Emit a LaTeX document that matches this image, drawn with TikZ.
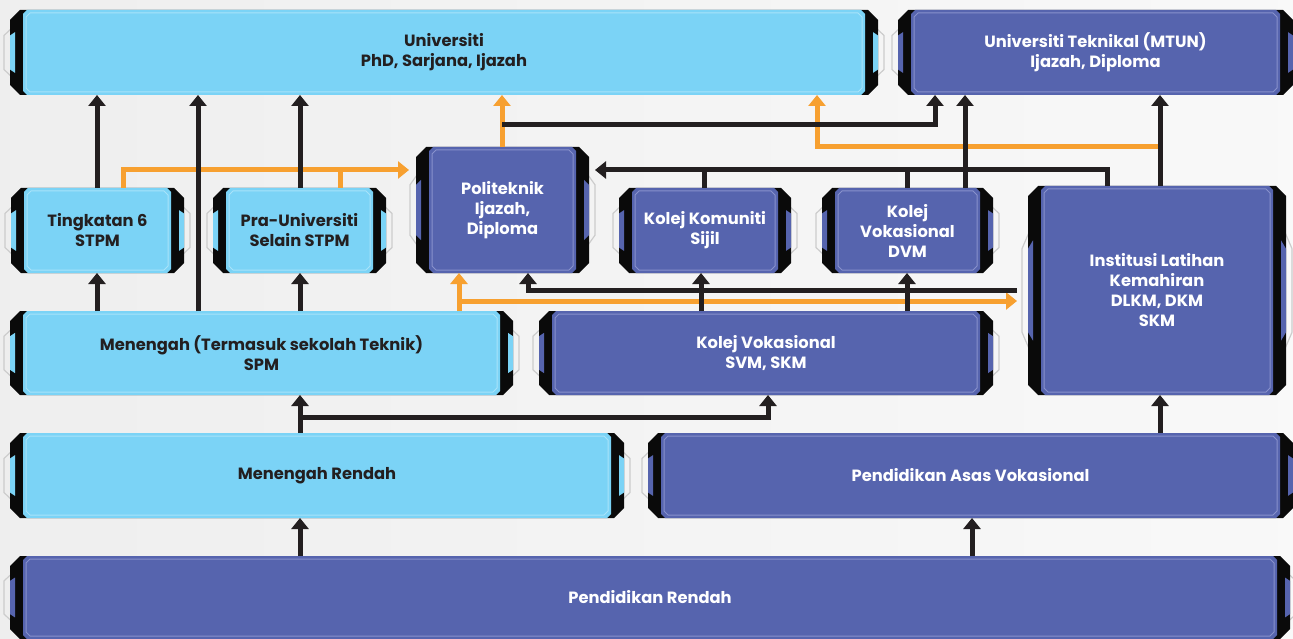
\documentclass[tikz,border=0pt]{standalone}
\usepackage{fontspec}
\setmainfont{Poppins}
\usetikzlibrary{arrows.meta}
\definecolor{lblue}{HTML}{7BD3F6}
\definecolor{lbline}{HTML}{A8E3FA}
\definecolor{dblue}{HTML}{5664AE}
\definecolor{dbline}{HTML}{8891CC}
\definecolor{capk}{HTML}{0A0A0A}
\definecolor{ink}{HTML}{231F20}
\definecolor{orng}{HTML}{F7A030}
\tikzset{
  bracket/.style={draw=gray!40, line width=1.2pt},
  boxtext/.style={font=\fontsize{16.3}{20}\selectfont\bfseries, align=center, inner sep=0pt, outer sep=0pt, draw=none},
  blk/.style={draw=ink, line width=5pt, -{Triangle[width=17pt,length=11pt]}},
  blkline/.style={draw=ink, line width=5pt},
  org/.style={draw=orng, line width=5pt, -{Triangle[width=17pt,length=11pt]}},
  orgline/.style={draw=orng, line width=5pt},
}
% #1 name, #2 x0, #3 y0, #4 x1, #5 y1, #6 fill, #7 inner line, #8 text colour, #9 text
\newcommand\gbox[9]{%
  \pgfmathsetmacro\gx{#2}\pgfmathsetmacro\gy{#3}%
  \pgfmathsetmacro\gX{#4}\pgfmathsetmacro\gY{#5}%
  \pgfmathsetmacro\gh{#5-#3}%
  \draw[bracket] ({\gx+3},{\gy+0.2*\gh}) -- ({\gx-6},{\gy+0.3*\gh}) -- ({\gx-6},{\gY-0.3*\gh}) -- ({\gx+3},{\gY-0.2*\gh});
  \draw[bracket] ({\gX-3},{\gy+0.2*\gh}) -- ({\gX+6},{\gy+0.3*\gh}) -- ({\gX+6},{\gY-0.3*\gh}) -- ({\gX-3},{\gY-0.2*\gh});
  \fill[capk] ({\gx+10},\gy) -- ({\gX-10},\gy) -- (\gX,{\gy+10}) -- (\gX,{\gY-10}) -- ({\gX-10},\gY) -- ({\gx+10},\gY) -- (\gx,{\gY-10}) -- (\gx,{\gy+10}) -- cycle;
  \fill[#6] (\gx,{\gy+0.3*\gh}) -- ({\gx+5},{\gy+0.26*\gh}) -- ({\gx+5},{\gY-0.26*\gh}) -- (\gx,{\gY-0.3*\gh}) -- cycle;
  \fill[#6] (\gX,{\gy+0.3*\gh}) -- ({\gX-5},{\gy+0.26*\gh}) -- ({\gX-5},{\gY-0.26*\gh}) -- (\gX,{\gY-0.3*\gh}) -- cycle;
  \fill[#6] ({\gx+17},\gy) -- ({\gX-17},\gy) -- ({\gX-13},{\gy+4}) -- ({\gX-13},{\gY-4}) -- ({\gX-17},\gY) -- ({\gx+17},\gY) -- ({\gx+13},{\gY-4}) -- ({\gx+13},{\gy+4}) -- cycle;
  \draw[#7, line width=1pt] ({\gx+20},{\gy+3}) -- ({\gX-20},{\gy+3}) -- ({\gX-16},{\gy+7}) -- ({\gX-16},{\gY-7}) -- ({\gX-20},{\gY-3}) -- ({\gx+20},{\gY-3}) -- ({\gx+16},{\gY-7}) -- ({\gx+16},{\gy+7}) -- cycle;
  \node[boxtext, text=#8, minimum width={#4-#2}, minimum height={#5-#3}] (#1) at ({(#2+#4)/2},{(#3+#5)/2}) {#9};
}
\begin{document}
\begin{tikzpicture}[x=1pt,y=-1pt]
\useasboundingbox (0,0) rectangle (1293,639);
\shade[left color=gray!13, right color=gray!5] (0,0) rectangle (1293,639);

\gbox{uni}{10}{10}{878}{95}{lblue}{lbline}{ink}{Universiti\\PhD, Sarjana, Ijazah}
\gbox{mtun}{898}{10}{1293}{95}{dblue}{dbline}{white}{Universiti Teknikal (MTUN)\\Ijazah, Diploma}
\gbox{t6}{11}{188}{184}{273}{lblue}{lbline}{ink}{Tingkatan 6\\STPM}
\gbox{pra}{213}{188}{386}{273}{lblue}{lbline}{ink}{Pra-Universiti\\Selain STPM}
\gbox{poli}{416}{147}{589}{273}{dblue}{dbline}{white}{Politeknik\\Ijazah,\\Diploma}
\gbox{kk}{619}{188}{791}{273}{dblue}{dbline}{white}{Kolej Komuniti\\Sijil}
\gbox{kvd}{822}{188}{993}{273}{dblue}{dbline}{white}{Kolej\\Vokasional\\DVM}
\gbox{ilk}{1028}{186}{1286}{395}{dblue}{dbline}{white}{Institusi Latihan\\Kemahiran\\DLKM, DKM\\SKM}
\gbox{spm}{10}{311}{513}{395}{lblue}{lbline}{ink}{Menengah (Termasuk sekolah Teknik)\\SPM}
\gbox{kvs}{539}{311}{993}{395}{dblue}{dbline}{white}{Kolej Vokasional\\SVM, SKM}
\gbox{mr}{10}{433}{624}{518}{lblue}{lbline}{ink}{Menengah Rendah}
\gbox{pav}{648}{433}{1293}{518}{dblue}{dbline}{white}{Pendidikan Asas Vokasional}
\gbox{pr}{10}{556}{1290}{639}{dblue}{dbline}{white}{Pendidikan Rendah}

% junction coordinates
\coordinate (jpra) at (340,170);
\coordinate (jpoli) at (502,125);
\coordinate (jilk) at (1160,147);
\coordinate (jspm) at (459,301);
\coordinate (jkk) at (704,170);
\coordinate (jkvd) at (907,170);
\coordinate (jmr) at (300,417);

% orange connectors
\draw[org] (t6.north -| 123,0) |- ([xshift=-7pt]poli.west |- jpra);
\draw[orgline] (pra.north -| jpra) -- (jpra);
\draw[org] (poli.north -| jpoli) -- (uni.south -| jpoli);
\draw[org] (jilk) -| (uni.south -| 817,0);
\draw[org] (spm.north -| jspm) -- (poli.south -| jspm);
\draw[org] (jspm) -- ([xshift=-11pt]ilk.west |- jspm);

% black connectors
\draw[blk] (t6.north -| 97,0) -- (uni.south -| 97,0);
\draw[blk] (spm.north -| 198,0) -- (uni.south -| 198,0);
\draw[blk] (pra.north -| 300,0) -- (uni.south -| 300,0);
\draw[blk] (spm.north -| 97,0) -- (t6.south -| 97,0);
\draw[blk] (spm.north -| 300,0) -- (pra.south -| 300,0);
\draw[blk] (jpoli) -| (mtun.south -| 935,0);
\draw[blk] (ilk.north -| 1107,0) |- ([xshift=6pt]poli.east |- jkk);
\draw[blkline] (kk.north -| jkk) -- (jkk);
\draw[blkline] (kvd.north -| jkvd) -- (jkvd);
\draw[blk] (kvd.north -| 965,0) -- (mtun.south -| 965,0);
\draw[blk] (ilk.north -| jilk) -- (mtun.south -| jilk);
\draw[blk] ([xshift=-11pt]ilk.west |- 0,290) -| (poli.south -| 528,0);
\draw[blk] (kvs.north -| 701,0) -- (kk.south -| 701,0);
\draw[blk] (kvs.north -| 907,0) -- (kvd.south -| 907,0);
\draw[blk] (mr.north -| jmr) -- (spm.south -| jmr);
\draw[blk] (jmr) -| (kvs.south -| 768,0);
\draw[blk] (pav.north -| 1160,0) -- (ilk.south -| 1160,0);
\draw[blk] (pr.north -| 300,0) -- (mr.south -| 300,0);
\draw[blk] (pr.north -| 972,0) -- (pav.south -| 972,0);
\end{tikzpicture}
\end{document}
